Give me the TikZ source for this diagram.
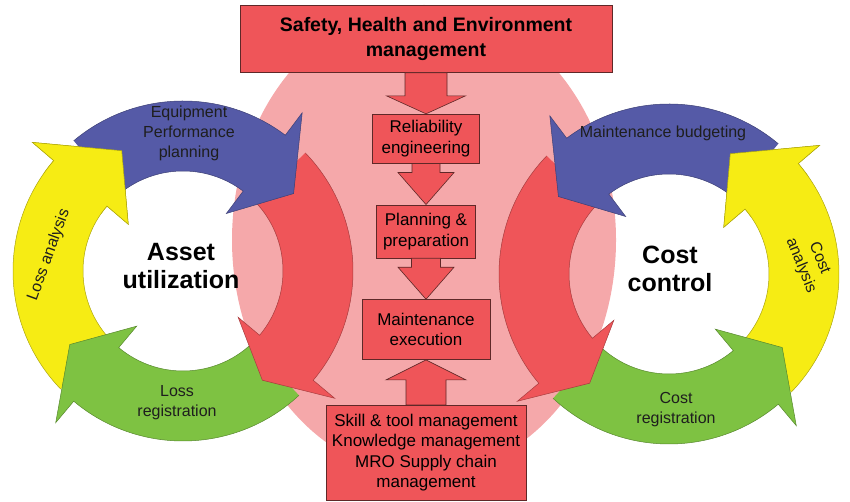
\documentclass[tikz,border=0pt]{standalone}
\usepackage{fontspec}
\setmainfont{Liberation Sans}
\usepackage{xcolor}
\usepackage{tikz}
\usetikzlibrary{positioning, calc}

\definecolor{boxred}{RGB}{239,85,89}
\definecolor{pinkbg}{RGB}{245,168,170}
\definecolor{ringblue}{RGB}{85,90,167}
\definecolor{ringyellow}{RGB}{246,236,20}
\definecolor{ringgreen}{RGB}{126,194,66}
\definecolor{boxline}{RGB}{95,40,40}
\definecolor{textgray}{RGB}{30,30,30}

% ring geometry
\newcommand\rin{100pt}
\newcommand\rout{170pt}
\newcommand\rflare{28pt}
\newcommand\rtip{135pt}

% circular arrow: colour, centre, tail angle, head base angle, tip angle
\newcommand\ringarrow[5]{%
  \path[ring=#1] ($(#2)+(#3:\rout)$) arc[start angle=#3, end angle=#4, radius=\rout]
    -- ($(#2)+(#4:{\rout+\rflare})$) -- ($(#2)+(#5:\rtip)$)
    -- ($(#2)+(#4:{\rin-\rflare})$) -- ($(#2)+(#4:\rin)$)
    arc[start angle=#4, end angle=#3, radius=\rin];}

% block arrow: from, to, shaft half width, head half width, head length
\newcommand\fatarrow[5]{%
  \path[fat] let \p1=(#1), \p2=(#2) in
    ({\x1-#3pt},\y1) -- ({\x1-#3pt},{\y2+(#5pt)}) -- ({\x1-#4pt},{\y2+(#5pt)}) -- (\x2,\y2)
    -- ({\x1+#4pt},{\y2+(#5pt)}) -- ({\x1+#3pt},{\y2+(#5pt)}) -- ({\x1+#3pt},\y1) -- cycle;}

\begin{document}
\begin{tikzpicture}[
    x=1pt, y=1pt,
    node distance=41pt,
    block/.style={rectangle, draw=boxline, line width=0.7pt, fill=boxred, align=center, inner sep=0pt, font=\fontsize{17}{20.5}\selectfont},
    fat/.style={draw=boxline, line width=0.6pt, fill=boxred},
    ring/.style={draw=#1!70!black, line width=0.5pt, fill=#1},
    ringlabel/.style={align=center, inner sep=0pt, text=textgray, font=\fontsize{16}{20}\selectfont},
    bigtitle/.style={align=center, inner sep=0pt, font=\bfseries\fontsize{25}{28}\selectfont}
]
    \useasboundingbox (0,0) rectangle (850,502);

    % Background
    \fill[pinkbg] (424,262) ellipse[x radius=192, y radius=235];

    % Rings
    \coordinate (assetc) at (183,231);
    \coordinate (costc) at (669,228);

    \ringarrow{ringyellow}{assetc}{224}{139.5}{117}
    \ringarrow{ringgreen}{assetc}{313}{230}{213}
    \ringarrow{boxred}{assetc}{44}{-40}{-54}
    \ringarrow{ringblue}{assetc}{130}{53}{35}
    \ringarrow{ringyellow}{assetc}{145}{139.5}{117}

    \ringarrow{ringyellow}{costc}{-44}{40.5}{63}
    \ringarrow{ringgreen}{costc}{-133}{-50}{-33}
    \ringarrow{boxred}{costc}{136}{220}{234}
    \ringarrow{ringblue}{costc}{50}{127}{145}
    \ringarrow{ringyellow}{costc}{35}{40.5}{63}

    % Ring labels
    \node[ringlabel] (eqp) at (189,369) {Equipment\\Performance\\planning};
    \node[ringlabel, rotate=70] (lossan) at (49,247) {Loss analysis};
    \node[bigtitle] (asset) at (181,236) {Asset\\utilization};
    \node[ringlabel] (lossreg) at (177,99) {Loss\\registration};

    \node[ringlabel] (budget) at (663,369) {Maintenance budgeting};
    \node[ringlabel, rotate=-68] (costan) at (810,240) {Cost\\analysis};
    \node[bigtitle] (costctl) at (670,233) {Cost\\control};
    \node[ringlabel] (costreg) at (676,92) {Cost\\registration};

    % Nodes
    \node[block, minimum width=372pt, minimum height=67pt, font=\bfseries\fontsize{19.5}{25}\selectfont] (she) at (426,463) {Safety, Health and Environment\\management};
    \node[block, below=of she, minimum width=107pt, minimum height=49pt] (rel) {Reliability\\engineering};
    \node[block, below=of rel, minimum width=99pt, minimum height=53pt] (plan) {Planning \&\\preparation};
    \node[block, below=of plan, minimum width=128pt, minimum height=60pt] (exec) {Maintenance\\execution};
    \node[block, below=45pt of exec, minimum width=200pt, minimum height=95pt] (support) {Skill \& tool management\\Knowledge management\\MRO Supply chain\\management};

    % Arrows
    \fatarrow{she.south}{rel.north}{21}{39.5}{18}
    \fatarrow{rel.south}{plan.north}{14}{28}{32}
    \fatarrow{plan.south}{exec.north}{14.5}{28}{32}
    \fatarrow{support.north}{exec.south}{20}{40}{-20}
\end{tikzpicture}
\end{document}
